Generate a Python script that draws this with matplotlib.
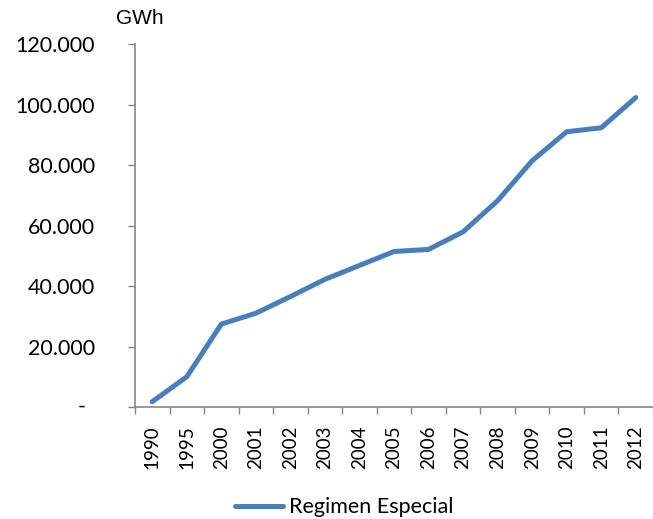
import numpy as np
import matplotlib
matplotlib.use("Agg")
import matplotlib.pyplot as plt
import matplotlib.transforms as mtransforms
from matplotlib.ticker import FixedLocator, FuncFormatter

years = ["1990", "1995", "2000", "2001", "2002", "2003", "2004", "2005",
         "2006", "2007", "2008", "2009", "2010", "2011", "2012"]
gwh = [1750, 10000, 27400, 31000, 36500, 42200, 46800, 51400,
       52100, 57900, 68200, 81400, 91000, 92300, 102300]
yticks = [0, 20000, 40000, 60000, 80000, 100000, 120000]

fig = plt.figure(figsize=(6.53, 5.19), dpi=100)
ax = fig.add_axes([0.2067, 0.2158, 0.7933, 0.6994])

x = np.arange(len(years))
ax.plot(x, gwh, color="#4A7EBB", lw=3.6, solid_capstyle="round",
        solid_joinstyle="round", label="Regimen Especial")

ax.set_xlim(-0.5, len(years) - 0.5)
ax.set_ylim(0, 120000)

# y axis: thousands with a dot, zero drawn separately as a dash
def fmt(v, pos):
    if v == 0:
        return ""
    return f"{int(v):,}".replace(",", ".")

ax.yaxis.set_major_locator(FixedLocator(yticks))
ax.yaxis.set_major_formatter(FuncFormatter(fmt))
ax.tick_params(axis="y", direction="out", length=5, width=1, color="#868686",
               pad=24, labelsize=15.5)
trans = mtransforms.blended_transform_factory(fig.transFigure, ax.transData)
ax.text(86 / 653, 0, "-", transform=trans, ha="right", va="center",
        fontsize=15.5, family="Lato", clip_on=False)

# x axis: labels at centres, ticks at boundaries
ax.set_xticks(x)
ax.set_xticklabels(years, rotation=90, fontsize=13.5)
ax.set_xticks(np.arange(-0.5, len(years)), minor=True)
ax.tick_params(axis="x", which="major", length=0, pad=13)
ax.tick_params(axis="x", which="minor", direction="out", length=5, width=1,
               color="#868686")

for lab in ax.get_xticklabels() + ax.get_yticklabels():
    lab.set_fontfamily("Lato")

for s in ["top", "right"]:
    ax.spines[s].set_visible(False)
for s in ["left", "bottom"]:
    ax.spines[s].set_color("#868686")
    ax.spines[s].set_linewidth(1.2)

fig.text(0.178, 0.965, "GWh", fontsize=15, family="Liberation Sans", va="center")

leg = fig.legend(loc="center", bbox_to_anchor=(0.527, 0.023), frameon=False,
                 handlelength=2.2, handletextpad=0.28,
                 prop={"family": "Lato", "size": 15.5})

fig.savefig("out.png", dpi=100)
